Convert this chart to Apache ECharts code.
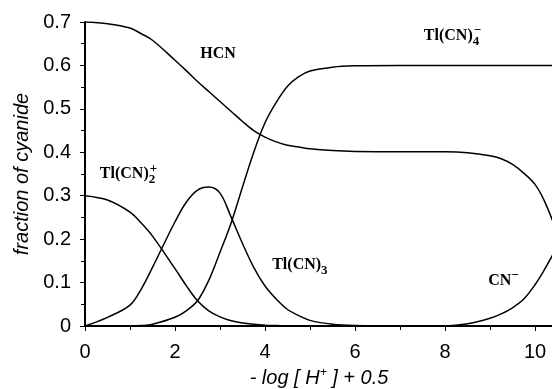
<!DOCTYPE html>
<html>
<head>
<meta charset="utf-8">
<script src="https://cdn.jsdelivr.net/npm/echarts@6/dist/echarts.min.js"></script>
<style>
html,body{margin:0;padding:0;background:#fff}
#main{width:552px;height:389px}
</style>
</head>
<body>
<div id="main"></div>
<script>
// x = -log[H+] + 0.5
var xs  = [0, 0.5, 1, 1.25, 1.5, 2, 2.25, 2.5, 2.75, 3, 3.25, 3.5, 3.75, 4, 4.25, 4.5, 4.75, 5, 5.5, 6, 7, 8, 8.5, 9, 9.25, 9.5, 9.75, 10, 10.2, 10.4];
var hcn = [0.700, 0.696, 0.686, 0.673, 0.658, 0.612, 0.588, 0.563, 0.540, 0.517, 0.494, 0.471, 0.450, 0.435, 0.424, 0.416, 0.412, 0.408, 0.404, 0.402, 0.401, 0.401, 0.399, 0.392, 0.385, 0.372, 0.352, 0.326, 0.290, 0.240];
var tl4 = [0, 0, 0, 0.001, 0.004, 0.02, 0.035, 0.058, 0.105, 0.17, 0.238, 0.32, 0.40, 0.468, 0.515, 0.552, 0.574, 0.587, 0.596, 0.599, 0.600, 0.600, 0.600, 0.600, 0.600, 0.600, 0.600, 0.600, 0.600, 0.600];
var tl2 = [0.30, 0.29, 0.262, 0.237, 0.207, 0.132, 0.093, 0.058, 0.035, 0.021, 0.012, 0.007, 0.004, 0.002, 0.001, 0, 0, 0, 0, 0, 0, 0, 0, 0, 0, 0, 0, 0, 0, 0];
var tl3 = [0, 0.02, 0.048, 0.085, 0.135, 0.24, 0.285, 0.313, 0.32, 0.306, 0.25, 0.19, 0.135, 0.092, 0.062, 0.038, 0.024, 0.013, 0.004, 0.001, 0, 0, 0, 0, 0, 0, 0, 0, 0, 0];
var cn  = [0, 0, 0, 0, 0, 0, 0, 0, 0, 0, 0, 0, 0, 0, 0, 0, 0, 0, 0, 0, 0, 0, 0.005, 0.018, 0.028, 0.042, 0.062, 0.095, 0.128, 0.165];

// species labels: text and anchor (left / middle) in data units
var labelText = ['HCN', 'Tl(CN){b|4}{p|\u2212}', 'Tl(CN){b|2}{p|+}', 'Tl(CN){c|3}', 'CN{p|\u2212}'];
var labelPos  = [[2.56, 0.627], [7.53, 0.668], [0.33, 0.35], [4.16, 0.14], [8.96, 0.103]];

var sans = '"Liberation Sans", Arial, sans-serif';
var serif = '"Liberation Serif", "Times New Roman", serif';

function pairs(ys) {
    return xs.map(function (x, i) { return [x, ys[i]]; });
}
function line(name, ys) {
    return {
        name: name, type: 'line', data: pairs(ys),
        smooth: 0.35, symbol: 'none', silent: true,
        lineStyle: {color: '#000', width: 1.5}
    };
}

var chart = echarts.init(document.getElementById('main'));
chart.setOption({
    animation: false,
    backgroundColor: '#fff',
    grid: {left: 85, top: 22, width: 468, bottom: 63, outerBoundsMode: 'none'},
    xAxis: {
        type: 'value', min: 0, max: 10.4, interval: 2,
        name: '- log [ H{s|+} ] + 0.5', nameLocation: 'middle', nameGap: 36,
        nameTextStyle: {
            fontFamily: sans, fontStyle: 'italic', fontSize: 20, color: '#000', lineHeight: 24,
            rich: {s: {fontFamily: sans, fontStyle: 'italic', fontSize: 12, lineHeight: 12, verticalAlign: 'top', color: '#000'}}
        },
        axisLine: {lineStyle: {color: '#000', width: 2}},
        axisTick: {length: 5, lineStyle: {color: '#000', width: 1}},
        minorTick: {show: true, splitNumber: 2, length: 4, lineStyle: {color: '#000', width: 1}},
        axisLabel: {fontFamily: sans, fontSize: 20, color: '#000', margin: 16, showMaxLabel: false},
        splitLine: {show: false}
    },
    yAxis: {
        type: 'value', min: 0, max: 0.7, interval: 0.1,
        name: 'fraction of cyanide', nameLocation: 'middle', nameGap: 47,
        nameTextStyle: {fontFamily: sans, fontStyle: 'italic', fontSize: 20, color: '#000'},
        axisLine: {show: true, lineStyle: {color: '#000', width: 2}},
        axisTick: {show: true, length: 5, lineStyle: {color: '#000', width: 1}},
        minorTick: {show: true, splitNumber: 2, length: 4, lineStyle: {color: '#000', width: 1}},
        axisLabel: {
            fontFamily: sans, fontSize: 20, color: '#000', margin: 14,
            formatter: function (v) { return v === 0 ? '0' : v.toFixed(1); }
        },
        splitLine: {show: false}
    },
    series: [line('HCN', hcn), line('Tl(CN)4-', tl4), line('Tl(CN)2+', tl2), line('Tl(CN)3', tl3), line('CN-', cn)]
});

var rich = {
    b: {fontFamily: serif, fontWeight: 'bold', fontSize: 13, lineHeight: 12, verticalAlign: 'bottom', width: 1, fill: '#000'},
    c: {fontFamily: serif, fontWeight: 'bold', fontSize: 13, lineHeight: 12, verticalAlign: 'bottom', fill: '#000'},
    p: {fontFamily: serif, fontWeight: 'bold', fontSize: 13, lineHeight: 12, verticalAlign: 'top', fill: '#000'}
};
var texts = labelText.map(function (t, i) {
    var p = chart.convertToPixel({gridIndex: 0}, labelPos[i]);
    return {
        type: 'text', x: p[0], y: p[1], silent: true,
        style: {
            text: t, fontFamily: serif, fontWeight: 'bold', fontSize: 16, lineHeight: 24,
            fill: '#000', align: 'left', verticalAlign: 'middle', rich: rich
        }
    };
});
chart.setOption({graphic: texts});
</script>
</body>
</html>
